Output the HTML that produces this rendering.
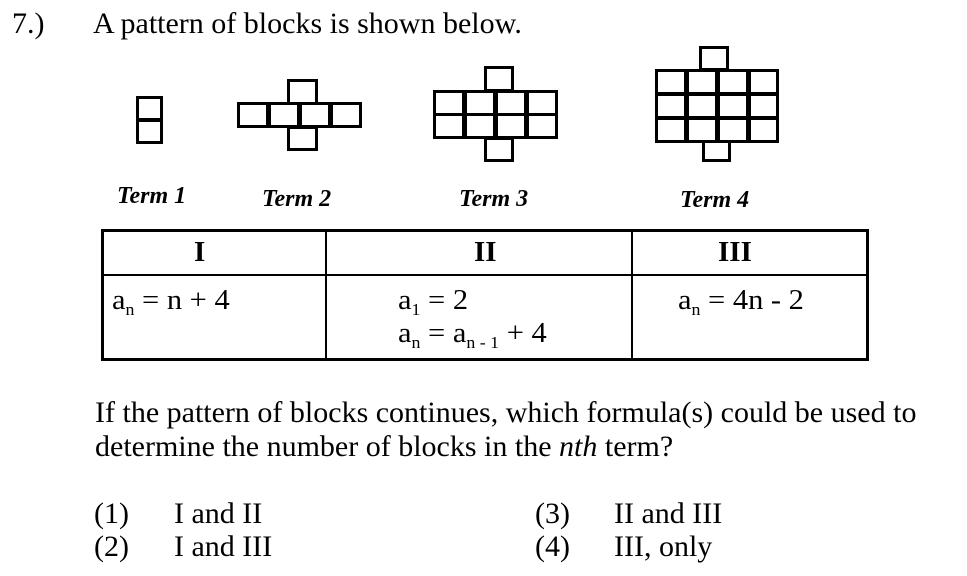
<!DOCTYPE html>
<html><head><style>
body{margin:0;width:967px;height:576px;background:#fff;position:relative;font-family:"Liberation Serif",serif;color:#000;overflow:hidden}
.t{position:absolute;white-space:nowrap;line-height:1}
.b{position:absolute;border:3px solid #000;box-sizing:border-box;background:#fff}
.term{position:absolute;font-weight:bold;font-style:italic;font-size:24px;line-height:1}
.f{font-size:29px;transform:scaleX(1.05);transform-origin:left}
sub{font-size:17px;vertical-align:-6px;line-height:0}
</style></head><body>
<div class="t" style="left:12px;top:9px;font-size:30px">7.)</div>
<div class="t" style="left:93px;top:9px;font-size:30px">A pattern of blocks is shown below.</div>

<div class="b" style="left:136px;top:96px;width:27px;height:25px"></div>
<div class="b" style="left:136px;top:119px;width:27px;height:25px"></div>
<div class="b" style="left:287px;top:79px;width:31px;height:26px"></div>
<div class="b" style="left:237px;top:102px;width:32px;height:26px"></div>
<div class="b" style="left:268px;top:102px;width:32px;height:26px"></div>
<div class="b" style="left:299px;top:102px;width:32px;height:26px"></div>
<div class="b" style="left:330px;top:102px;width:32px;height:26px"></div>
<div class="b" style="left:287px;top:126px;width:31px;height:25px"></div>
<div class="b" style="left:484px;top:66px;width:30px;height:26px"></div>
<div class="b" style="left:433px;top:90px;width:32px;height:26px"></div>
<div class="b" style="left:464px;top:90px;width:32px;height:26px"></div>
<div class="b" style="left:495px;top:90px;width:32px;height:26px"></div>
<div class="b" style="left:526px;top:90px;width:32px;height:26px"></div>
<div class="b" style="left:433px;top:113px;width:32px;height:26px"></div>
<div class="b" style="left:464px;top:113px;width:32px;height:26px"></div>
<div class="b" style="left:495px;top:113px;width:32px;height:26px"></div>
<div class="b" style="left:526px;top:113px;width:32px;height:26px"></div>
<div class="b" style="left:484px;top:137px;width:30px;height:25px"></div>
<div class="b" style="left:699px;top:46px;width:30px;height:25px"></div>
<div class="b" style="left:655px;top:69px;width:32px;height:26px"></div>
<div class="b" style="left:686px;top:69px;width:32px;height:26px"></div>
<div class="b" style="left:717px;top:69px;width:32px;height:26px"></div>
<div class="b" style="left:748px;top:69px;width:31px;height:26px"></div>
<div class="b" style="left:655px;top:93px;width:32px;height:26px"></div>
<div class="b" style="left:686px;top:93px;width:32px;height:26px"></div>
<div class="b" style="left:717px;top:93px;width:32px;height:26px"></div>
<div class="b" style="left:748px;top:93px;width:31px;height:26px"></div>
<div class="b" style="left:655px;top:117px;width:32px;height:26px"></div>
<div class="b" style="left:686px;top:117px;width:32px;height:26px"></div>
<div class="b" style="left:717px;top:117px;width:32px;height:26px"></div>
<div class="b" style="left:748px;top:117px;width:31px;height:26px"></div>
<div class="b" style="left:702px;top:140px;width:29px;height:22px"></div>

<div class="term" style="left:117px;top:184px">Term 1</div>
<div class="term" style="left:262px;top:187px">Term 2</div>
<div class="term" style="left:459px;top:187px">Term 3</div>
<div class="term" style="left:680px;top:188px">Term 4</div>

<div style="position:absolute;left:101px;top:229px;width:768px;height:132px;border:3px solid #000;box-sizing:border-box"></div>
<div style="position:absolute;left:101px;top:274px;width:768px;height:2px;background:#000"></div>
<div style="position:absolute;left:325px;top:229px;width:2px;height:132px;background:#000"></div>
<div style="position:absolute;left:631px;top:229px;width:2px;height:132px;background:#000"></div>
<div class="t" style="left:194px;top:238px;font-size:29px;font-weight:bold">I</div>
<div class="t" style="left:474px;top:238px;font-size:29px;font-weight:bold">II</div>
<div class="t" style="left:718px;top:238px;font-size:29px;font-weight:bold">III</div>
<div class="t f" style="left:112px;top:286px">a<sub>n</sub> = n + 4</div>
<div class="t f" style="left:398px;top:286px">a<sub>1</sub> = 2</div>
<div class="t f" style="left:398px;top:319px">a<sub>n</sub> = a<sub>n - 1</sub> + 4</div>
<div class="t f" style="left:678px;top:286px">a<sub>n</sub> = 4n - 2</div>

<div class="t" style="left:95px;top:398px;font-size:30px">If the pattern of blocks continues, which formula(s) could be used to</div>
<div class="t" style="left:95px;top:432px;font-size:30px">determine the number of blocks in the <i>nth</i> term?</div>

<div class="t" style="left:94px;top:499px;font-size:30px">(1)</div>
<div class="t" style="left:174px;top:499px;font-size:30px">I and II</div>
<div class="t" style="left:94px;top:532px;font-size:30px">(2)</div>
<div class="t" style="left:174px;top:532px;font-size:30px">I and III</div>
<div class="t" style="left:535px;top:499px;font-size:30px">(3)</div>
<div class="t" style="left:614px;top:499px;font-size:30px">II and III</div>
<div class="t" style="left:535px;top:532px;font-size:30px">(4)</div>
<div class="t" style="left:614px;top:532px;font-size:30px">III, only</div>
</body></html>
